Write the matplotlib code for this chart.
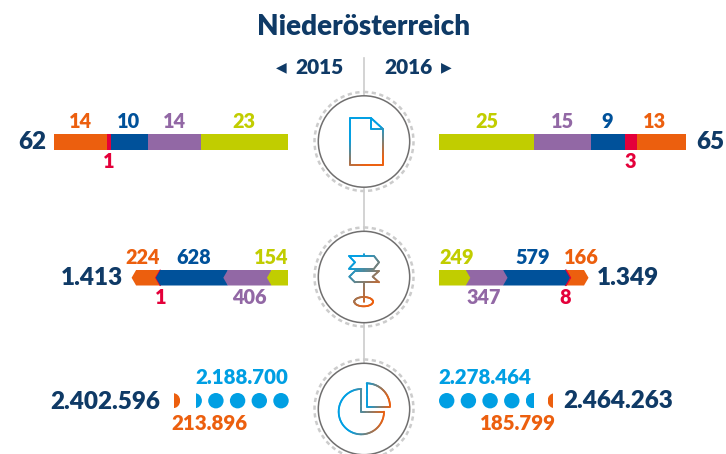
import numpy as np
import matplotlib
matplotlib.use('Agg')
import matplotlib.pyplot as plt
from matplotlib.collections import LineCollection
from matplotlib.patches import Circle, Rectangle

plt.rcParams['font.family'] = ['Lato', 'DejaVu Sans']

# data
title = 'Niederösterreich'
years = ['2015', '2016']

# row 1 (documents)
docs_left = [14, 1, 10, 14, 23]
docs_right = [25, 15, 9, 3, 13]
docs_total = [62, 65]

# row 2 (signpost)
signs_left = [224, 1, 628, 406, 154]
signs_right = [249, 347, 579, 8, 166]
signs_total = [1413, 1349]

# row 3 (pie)
dots_blue = [2188700, 2278464]
dots_orange = [213896, 185799]
dots_total = [2402596, 2464263]
dot_unit = 500000

# colours
NAVY = '#0F3A66'
ORANGE = '#EC5F0E'
RED = '#E4003A'
BLUE = '#00519A'
PURPLE = '#9268A5'
LIME = '#C1CD00'
CYAN = '#009FE3'
GREY = '#CCCCCC'
left_colors = [ORANGE, RED, BLUE, PURPLE, LIME]
right_colors = [LIME, PURPLE, BLUE, RED, ORANGE]

SMALL = 14.3
DOTS = 14.8
BIG = 17.5


def fmt(v):
    return f'{v:,}'.replace(',', '.')


fig = plt.figure(figsize=(7.26, 4.54), dpi=100)
ax = fig.add_axes([0, 0, 1, 1])
ax.set_xlim(0, 726)
ax.set_ylim(454, 0)
ax.axis('off')


def label(x, y, s, color, size=SMALL, ha='center'):
    ax.text(x, y, s, color=color, fontsize=size, fontweight='heavy', ha=ha, va='center')


# title and years
label(364, 27, title, NAVY, size=20)
label(343.5, 67, years[0], NAVY, size=15, ha='right')
label(384, 67, years[1], NAVY, size=15, ha='left')
ax.text(281.5, 67, '◀', color=NAVY, fontsize=10, ha='center', va='center', family='DejaVu Sans')
ax.text(446.5, 67, '▶', color=NAVY, fontsize=10, ha='center', va='center', family='DejaVu Sans')

# centre line
ax.plot([364, 364], [58, 440], color=GREY, lw=1.2, zorder=1)


# gradient line for the icons, blue to orange along direction (dx, dy)
def grad_line(pts, dx, dy, lim, lw=1.3):
    pts = np.array(pts, dtype=float)
    parts = []
    for a, b in zip(pts[:-1], pts[1:]):
        n = max(int(np.hypot(*(b - a))), 1)
        parts.append(a + (b - a) * np.linspace(0, 1, n + 1)[:, None])
    segs = []
    for p in parts:
        segs += [p[i:i + 2] for i in range(len(p) - 1)]
    segs = np.array(segs)
    mid = segs.mean(axis=1)
    t = np.clip(((mid[:, 0] * dx + mid[:, 1] * dy) - lim[0]) / (lim[1] - lim[0]), 0, 1)[:, None]
    c0 = np.array(matplotlib.colors.to_rgb(CYAN))
    c1 = np.array(matplotlib.colors.to_rgb(ORANGE))
    ax.add_collection(LineCollection(segs, colors=c0 + (c1 - c0) * t, linewidths=lw,
                                     capstyle='round', zorder=4))


# circles behind the icons
for cy in [141.5, 277, 409]:
    ax.add_patch(Circle((364, cy), 49.5, fill=False, ec=GREY, lw=1.8, ls=(0, (1.7, 1.4)), zorder=2))
    ax.add_patch(Circle((364, cy), 45.7, fc='white', ec='#706F6F', lw=1.1, zorder=3))

# icon 1: document
grad_line([(371, 118), (350, 118), (350, 165), (383, 165), (383, 129), (371, 118),
           (371, 129), (383, 129)], 0.5, 1, (315, 348))


# icon 2: signpost
def p2(x, y):
    return (300 + x / 3, 220 + y / 3)


sign_lim = (615, 672)
for shape in [[(147, 108), (222, 108), (237, 127), (222, 146), (147, 146), (165, 127), (147, 108)],
              [(237, 153), (165, 153), (148, 170), (165, 187), (237, 187), (218, 170), (237, 153)],
              [(191, 102), (191, 108)], [(191, 146), (191, 153)], [(191, 187), (191, 245)]]:
    grad_line([p2(*q) for q in shape], 1, 1, sign_lim)
th = np.linspace(0, 2 * np.pi, 60)
grad_line([p2(191 + 28 * np.cos(a), 245 + 14 * np.sin(a)) for a in th], 1, 1, sign_lim)


# icon 3: pie
def p3(x, y):
    return (300 + x / 3, 330 + y / 3)


th = np.radians(np.linspace(-90, -360, 80))
big = [(184, 245)] + [(184 + 68 * np.cos(a), 245 + 68 * np.sin(a)) for a in th] + [(184, 245)]
grad_line([p3(*q) for q in big], 1, 0, (350, 384))
th = np.radians(np.linspace(-90, 0, 40))
small = [(200, 230)] + [(200 + 70 * np.cos(a), 230 + 70 * np.sin(a)) for a in th] + [(200, 230)]
grad_line([p3(*q) for q in small], 1, 0, (366, 390))

# row 1: plain stacked bars, px per unit
scale = [3.775, 3.8]
lefts = 288 - scale[0] * np.cumsum(docs_left[::-1])[::-1]
ax.barh([142] * 5, np.array(docs_left) * scale[0], left=lefts, height=16, color=left_colors, zorder=2)
lefts = 439 + scale[1] * np.concatenate([[0], np.cumsum(docs_right)[:-1]])
ax.barh([142] * 5, np.array(docs_right) * scale[1], left=lefts, height=16, color=right_colors, zorder=2)

for x, y, v, c in zip([80, 109, 129, 174, 244], [121, 161, 121, 121, 121], docs_left, left_colors):
    label(x, y, str(v), c)
for x, y, v, c in zip([487, 562, 607, 630, 655], [121, 121, 121, 161, 121], docs_right, right_colors):
    label(x, y, str(v), c)
label(46, 142, str(docs_total[0]), NAVY, size=BIG, ha='right')
label(696, 142, str(docs_total[1]), NAVY, size=BIG, ha='left')


# row 2: chevrons, x0 is the flat end, sign is the direction
def chevrons(x0, sign, values, colors, ytop=270, ybot=285.5, k=0.1075, tip=4.5):
    cum = np.cumsum(values) * k
    starts = np.concatenate([[0], cum[:-1]])
    ymid = (ytop + ybot) / 2
    for s, e, c in list(zip(starts, cum, colors))[::-1]:
        xs = x0 + sign * np.array([s, e, e + tip, e, s])
        ax.fill(xs, [ytop, ytop, ymid, ybot, ybot], color=c, lw=0.8 if c == RED else 0, zorder=2)


chevrons(288, -1, signs_left[::-1], left_colors[::-1])
chevrons(439, 1, signs_right, right_colors)

for x, y, v, c in zip([143, 161, 193.5, 249, 271], [257, 297, 257, 297, 257], signs_left, left_colors):
    label(x, y, str(v), c)
for x, y, v, c in zip([457, 484, 533, 565, 581], [257, 297, 257, 297, 257], signs_right, right_colors):
    label(x, y, fmt(v), c)
label(123, 278, fmt(signs_total[0]), NAVY, size=BIG, ha='right')
label(597, 278, fmt(signs_total[1]), NAVY, size=BIG, ha='left')


# row 3: dots worth dot_unit each, partly filled for the remainder
def dot(cx, frac, color, side, r=7.7, cy=400.7):
    c = Circle((cx, cy), r, fc=color, lw=0, zorder=2)
    ax.add_patch(c)
    if frac < 1:
        w = 2 * r * frac
        x = cx + r - w if side == 'right' else cx - r
        clip = Rectangle((x, cy - r), w, 2 * r, transform=ax.transData)
        c.set_clip_path(clip)


def dot_row(x0, step, blue, orange, side):
    n = blue / dot_unit
    for i in range(int(n)):
        dot(x0 + step * i, 1, CYAN, side)
    dot(x0 + step * int(n), n - int(n), CYAN, side)
    dot(x0 + step * (int(n) + 1), orange / dot_unit, ORANGE, side)


dot_row(281, -21.7, dots_blue[0], dots_orange[0], 'right')
dot_row(446.7, 21.7, dots_blue[1], dots_orange[1], 'left')

label(288, 378, fmt(dots_blue[0]), CYAN, size=DOTS, ha='right')
label(209, 424, fmt(dots_orange[0]), ORANGE, size=DOTS)
label(160, 402, fmt(dots_total[0]), NAVY, size=BIG, ha='right')
label(438, 378, fmt(dots_blue[1]), CYAN, size=DOTS, ha='left')
label(518, 424, fmt(dots_orange[1]), ORANGE, size=DOTS)
label(563, 401, fmt(dots_total[1]), NAVY, size=BIG, ha='left')

fig.savefig('out.png', dpi=100)
